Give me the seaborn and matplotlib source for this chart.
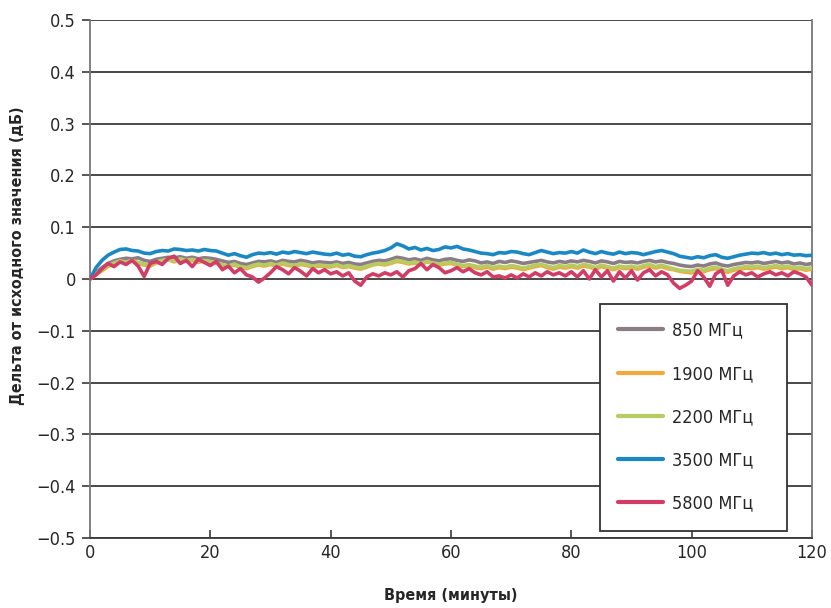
import matplotlib
matplotlib.use("Agg")
import matplotlib.pyplot as plt
import numpy as np
import pandas as pd
import seaborn as sns

# minutes 0..120, one reading per minute
minutes = list(range(121))

f850 = [
    0.000, 0.012, 0.022, 0.030, 0.035, 0.038, 0.040, 0.039, 0.041, 0.036,
    0.034, 0.038, 0.040, 0.042, 0.041, 0.043, 0.040, 0.042, 0.039, 0.041,
    0.040, 0.038, 0.035, 0.032, 0.034, 0.030, 0.028, 0.031, 0.034, 0.033,
    0.035, 0.032, 0.036, 0.034, 0.033, 0.036, 0.034, 0.031, 0.033, 0.032,
    0.031, 0.033, 0.030, 0.032, 0.029, 0.028, 0.031, 0.034, 0.036, 0.035,
    0.038, 0.042, 0.040, 0.037, 0.039, 0.036, 0.040, 0.037, 0.035, 0.038,
    0.039, 0.036, 0.034, 0.037, 0.035, 0.031, 0.033, 0.030, 0.034, 0.032,
    0.035, 0.033, 0.030, 0.032, 0.034, 0.036, 0.033, 0.031, 0.034, 0.032,
    0.035, 0.033, 0.036, 0.034, 0.031, 0.035, 0.033, 0.030, 0.034, 0.032,
    0.033, 0.031, 0.034, 0.036, 0.033, 0.035, 0.032, 0.030, 0.027, 0.025,
    0.024, 0.027, 0.025, 0.029, 0.031, 0.027, 0.025, 0.028, 0.030, 0.032,
    0.031, 0.033, 0.030, 0.032, 0.034, 0.031, 0.033, 0.029, 0.031, 0.028,
    0.030,
]

f1900 = [
    0.000, 0.008, 0.016, 0.024, 0.030, 0.033, 0.031, 0.035, 0.030, 0.027,
    0.025, 0.031, 0.034, 0.037, 0.033, 0.038, 0.034, 0.036, 0.032, 0.035,
    0.033, 0.030, 0.026, 0.024, 0.027, 0.022, 0.020, 0.024, 0.027, 0.025,
    0.028, 0.025, 0.029, 0.026, 0.024, 0.028, 0.026, 0.023, 0.025, 0.024,
    0.023, 0.026, 0.022, 0.024, 0.021, 0.019, 0.023, 0.027, 0.029, 0.027,
    0.030, 0.034, 0.032, 0.029, 0.031, 0.028, 0.033, 0.030, 0.027, 0.029,
    0.030, 0.027, 0.024, 0.026, 0.022, 0.020, 0.023, 0.019, 0.022, 0.020,
    0.023, 0.021, 0.018, 0.021, 0.024, 0.026, 0.022, 0.019, 0.023, 0.021,
    0.024, 0.021, 0.025, 0.023, 0.019, 0.024, 0.021, 0.018, 0.022, 0.020,
    0.022, 0.019, 0.023, 0.025, 0.021, 0.024, 0.020, 0.018, 0.015, 0.013,
    0.012, 0.016, 0.014, 0.018, 0.020, 0.016, 0.013, 0.017, 0.019, 0.021,
    0.020, 0.022, 0.019, 0.021, 0.023, 0.020, 0.022, 0.018, 0.020, 0.017,
    0.019,
]

f2200 = [
    0.000, 0.010, 0.018, 0.026, 0.031, 0.035, 0.033, 0.036, 0.032, 0.029,
    0.027, 0.033, 0.036, 0.038, 0.035, 0.039, 0.036, 0.038, 0.034, 0.036,
    0.034, 0.031, 0.028, 0.025, 0.029, 0.024, 0.022, 0.026, 0.029, 0.027,
    0.030, 0.027, 0.031, 0.028, 0.026, 0.030, 0.028, 0.025, 0.027, 0.026,
    0.025, 0.028, 0.024, 0.026, 0.023, 0.021, 0.025, 0.028, 0.030, 0.029,
    0.032, 0.036, 0.034, 0.031, 0.033, 0.030, 0.034, 0.031, 0.029, 0.031,
    0.032, 0.029, 0.026, 0.028, 0.025, 0.023, 0.026, 0.022, 0.025, 0.023,
    0.026, 0.024, 0.021, 0.024, 0.027, 0.028, 0.025, 0.022, 0.026, 0.024,
    0.027, 0.024, 0.028, 0.026, 0.022, 0.027, 0.024, 0.021, 0.025, 0.023,
    0.025, 0.022, 0.026, 0.028, 0.024, 0.027, 0.023, 0.020, 0.017, 0.016,
    0.015, 0.019, 0.017, 0.021, 0.023, 0.019, 0.016, 0.020, 0.022, 0.024,
    0.023, 0.025, 0.022, 0.024, 0.026, 0.023, 0.025, 0.021, 0.023, 0.020,
    0.022,
]

f3500 = [
    0.000, 0.022, 0.036, 0.046, 0.052, 0.057, 0.058, 0.055, 0.054, 0.050,
    0.049, 0.053, 0.055, 0.054, 0.058, 0.057, 0.055, 0.056, 0.054, 0.057,
    0.055, 0.054, 0.050, 0.046, 0.049, 0.045, 0.042, 0.047, 0.050, 0.049,
    0.051, 0.048, 0.052, 0.050, 0.053, 0.051, 0.049, 0.052, 0.050, 0.048,
    0.047, 0.050, 0.046, 0.048, 0.044, 0.043, 0.047, 0.050, 0.052, 0.055,
    0.060, 0.068, 0.064, 0.058, 0.061, 0.056, 0.059, 0.055, 0.057, 0.062,
    0.060, 0.063, 0.058, 0.056, 0.053, 0.050, 0.049, 0.047, 0.051, 0.050,
    0.053, 0.052, 0.049, 0.047, 0.051, 0.055, 0.052, 0.049, 0.051, 0.050,
    0.053, 0.050, 0.056, 0.052, 0.049, 0.053, 0.050, 0.048, 0.052, 0.049,
    0.051, 0.050, 0.047, 0.050, 0.053, 0.055, 0.052, 0.049, 0.044, 0.042,
    0.040, 0.043, 0.041, 0.045, 0.047, 0.042, 0.040, 0.043, 0.046, 0.048,
    0.050, 0.049, 0.051, 0.048, 0.050, 0.047, 0.049, 0.046, 0.047, 0.045,
    0.046,
]

f5800 = [
    0.000, 0.008, 0.020, 0.030, 0.024, 0.033, 0.028, 0.036, 0.025, 0.005,
    0.030, 0.034, 0.028, 0.040, 0.044, 0.030, 0.036, 0.024, 0.038, 0.032,
    0.026, 0.034, 0.018, 0.025, 0.012, 0.020, 0.008, 0.004, -0.006, 0.002,
    0.012, 0.024, 0.018, 0.010, 0.022, 0.015, 0.006, 0.020, 0.012, 0.018,
    0.010, 0.014, 0.006, 0.012, -0.004, -0.012, 0.004, 0.010, 0.006, 0.012,
    0.008, 0.014, 0.004, 0.016, 0.020, 0.030, 0.018, 0.028, 0.022, 0.012,
    0.016, 0.022, 0.014, 0.020, 0.012, 0.008, 0.014, 0.004, 0.006, 0.002,
    0.008, 0.002, 0.010, 0.004, 0.012, 0.006, 0.014, 0.008, 0.012, 0.006,
    0.014, 0.004, 0.016, 0.000, 0.018, 0.004, 0.016, -0.004, 0.014, 0.002,
    0.016, -0.002, 0.012, 0.018, 0.006, 0.014, 0.008, -0.008, -0.018, -0.012,
    -0.004, 0.016, 0.004, -0.014, 0.010, 0.017, -0.012, 0.006, 0.014, 0.008,
    0.012, 0.004, 0.010, 0.014, 0.008, 0.012, 0.006, 0.014, 0.010, 0.004,
    -0.012,
]

labels = ["850 МГц", "1900 МГц", "2200 МГц", "3500 МГц", "5800 МГц"]
colors = ["#8a7d86", "#f2a93b", "#b6cc62", "#1b88c4", "#d13d66"]

frames = []
for lab, vals in zip(labels, [f850, f1900, f2200, f3500, f5800]):
    frames.append(pd.DataFrame({"t": minutes, "d": vals, "f": lab}))
df = pd.concat(frames, ignore_index=True)

sns.set_style("white")
plt.rcParams["font.family"] = ["DejaVu Sans"]
plt.rcParams["font.stretch"] = "condensed"

fig = plt.figure(figsize=(8.31, 6.08), dpi=100)
ax = fig.add_axes([0.1083, 0.1151, 0.8688, 0.852])

for y in np.arange(-0.5, 0.51, 0.1):
    ax.axhline(y, color="#3a3a3a", lw=1.3, zorder=1)

sns.lineplot(data=df, x="t", y="d", hue="f", palette=colors, hue_order=labels,
             lw=2.6, ax=ax, zorder=3)

ax.set_xlim(0, 120)
ax.set_ylim(-0.5, 0.5)
ax.set_xticks(range(0, 121, 20))
ax.set_yticks(np.round(np.arange(-0.5, 0.51, 0.1), 1))
ax.set_yticklabels(["\u22120.5", "\u22120.4", "\u22120.3", "\u22120.2", "\u22120.1",
                    "0", "0.1", "0.2", "0.3", "0.4", "0.5"])
ax.tick_params(axis="y", direction="out", length=6, width=1.2, color="#3a3a3a",
               labelsize=13, pad=4, left=True)
ax.tick_params(axis="x", direction="in", length=6, width=1.2, color="#3a3a3a",
               labelsize=13, pad=4, bottom=True)

for side in ["left", "right"]:
    ax.spines[side].set_color("#777777")
    ax.spines[side].set_linewidth(1.3)
ax.spines["top"].set_visible(False)
ax.spines["bottom"].set_color("#3a3a3a")
ax.spines["bottom"].set_linewidth(1.3)

ax.set_xlabel("Время (минуты)", fontsize=11.5, fontweight="bold")
ax.xaxis.set_label_coords(0.5, -0.097)
ax.set_ylabel("Дельта от исходного значения (дБ)", fontsize=11.5, fontweight="bold")
ax.yaxis.set_label_coords(-0.09, 0.545)

leg = ax.legend(loc="lower left", bbox_to_anchor=(0.706, 0.014, 0.26, 0.44),
                mode="expand", frameon=True, fancybox=False, fontsize=13,
                labelspacing=1.4, handlelength=2.5, borderpad=1.0,
                handletextpad=0.5, borderaxespad=0)
leg.get_frame().set_edgecolor("#333333")
leg.get_frame().set_linewidth(1.3)
leg.get_frame().set_alpha(1)
for line in leg.get_lines():
    line.set_linewidth(3)

fig.savefig("out.png", dpi=100)
